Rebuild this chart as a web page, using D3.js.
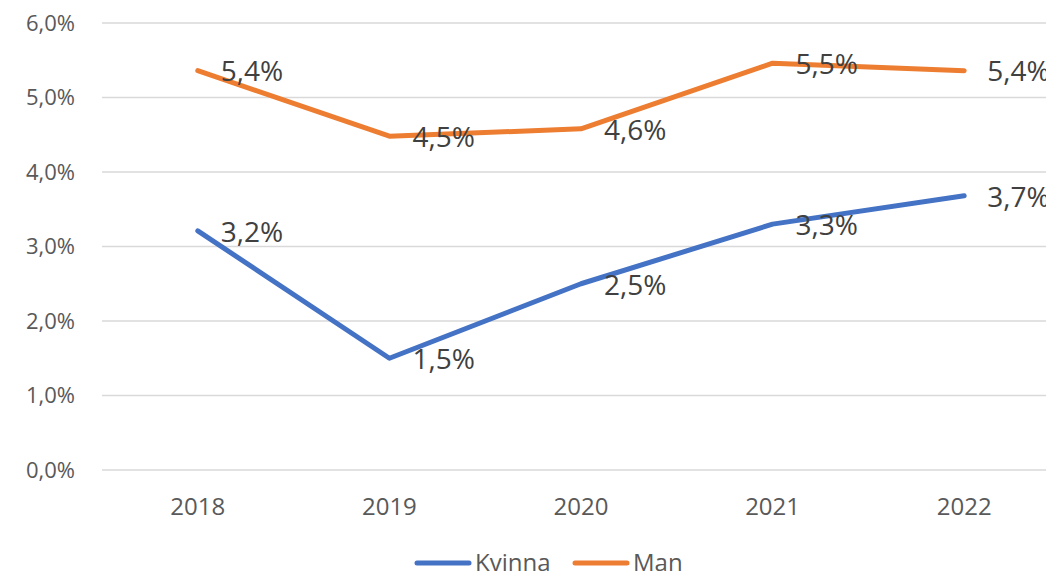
<html>
<head>
<meta charset="utf-8">
<script src="https://cdn.jsdelivr.net/npm/d3@7"></script>
<style>
  body { margin: 0; background: #fff; }
  text { font-family: "Open Sans", sans-serif; }
</style>
</head>
<body>
<div id="chart"></div>
<script>

// data
let years = ['2018', '2019', '2020', '2021', '2022'];
let kvinna = [3.21, 1.50, 2.50, 3.30, 3.68];
let man = [5.36, 4.48, 4.58, 5.46, 5.36];
let yTicks = [0, 1, 2, 3, 4, 5, 6];

let width = 1046;
let height = 576;

let svg = d3.select('#chart')
    .append('svg')
    .attr('width', width)
    .attr('height', height);

let x = d3.scaleBand()
    .domain(years)
    .range([102, 1060]);

let y = d3.scaleLinear()
    .domain([0, 6])
    .range([470, 23]);

let fmt = v => v.toFixed(1).replace('.', ',') + '%';

// gridlines
svg.append('g')
    .selectAll('line')
    .data(yTicks)
    .join('line')
    .attr('x1', 102)
    .attr('x2', 1060)
    .attr('y1', d => y(d))
    .attr('y2', d => y(d))
    .attr('stroke', '#d9d9d9')
    .attr('stroke-width', 1.5);

// y tick labels
svg.append('g')
    .selectAll('text')
    .data(yTicks)
    .join('text')
    .attr('x', 75)
    .attr('y', d => y(d))
    .attr('dy', '0.35em')
    .attr('text-anchor', 'end')
    .attr('fill', '#595959')
    .style('font-size', '22px')
    .text(d => fmt(d));

// x tick labels
svg.append('g')
    .selectAll('text')
    .data(years)
    .join('text')
    .attr('x', d => x(d) + x.bandwidth() / 2)
    .attr('y', 507)
    .attr('dy', '0.35em')
    .attr('text-anchor', 'middle')
    .attr('fill', '#595959')
    .style('font-size', '24px')
    .text(d => d);

let series = [
    { name: 'Kvinna', values: kvinna, color: '#4472c4' },
    { name: 'Man', values: man, color: '#ed7d31' }
];

let line = d3.line()
    .x((d, i) => x(years[i]) + x.bandwidth() / 2)
    .y(d => y(d));

series.forEach(s => {
    svg.append('path')
        .datum(s.values)
        .attr('d', line)
        .attr('fill', 'none')
        .attr('stroke', s.color)
        .attr('stroke-width', 5)
        .attr('stroke-linecap', 'round')
        .attr('stroke-linejoin', 'round');
});

// data labels
series.forEach(s => {
    svg.append('g')
        .selectAll('text')
        .data(s.values)
        .join('text')
        .attr('x', (d, i) => x(years[i]) + x.bandwidth() / 2 + 23)
        .attr('y', d => y(d) + 1)
        .attr('dy', '0.35em')
        .attr('fill', '#404040')
        .style('font-size', '28px')
        .text(d => fmt(d));
});

// legend
let legend = svg.append('g');
let legendItems = [
    { name: 'Kvinna', color: '#4472c4', x: 415 },
    { name: 'Man', color: '#ed7d31', x: 573 }
];
legendItems.forEach(l => {
    legend.append('line')
        .attr('x1', l.x + 2)
        .attr('x2', l.x + 54)
        .attr('y1', 563)
        .attr('y2', 563)
        .attr('stroke', l.color)
        .attr('stroke-width', 5)
        .attr('stroke-linecap', 'round');
    legend.append('text')
        .attr('x', l.x + 60)
        .attr('y', 563)
        .attr('dy', '0.35em')
        .attr('fill', '#595959')
        .style('font-size', '24px')
        .text(l.name);
});

</script>
</body>
</html>
